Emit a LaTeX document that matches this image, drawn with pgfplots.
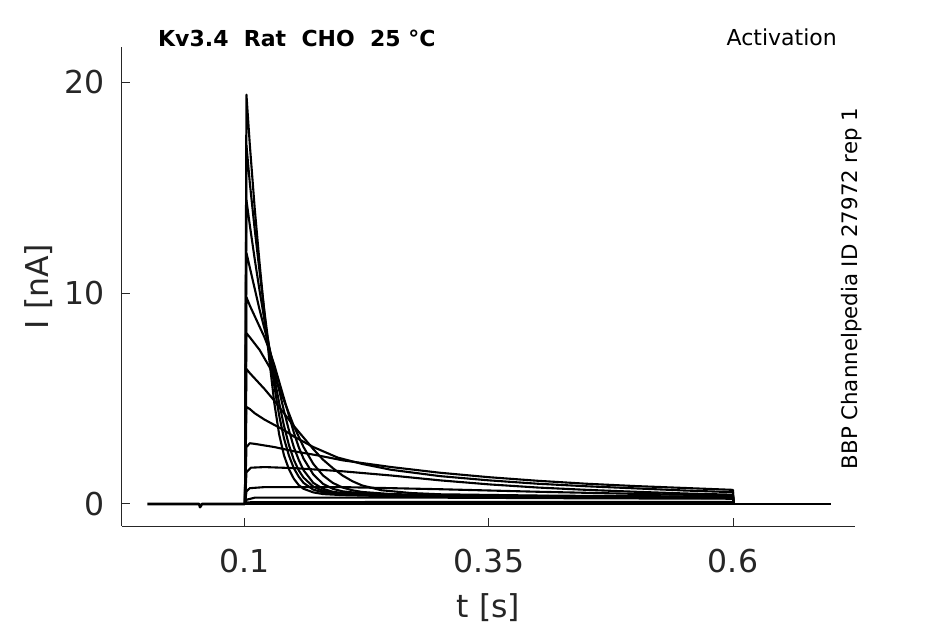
\documentclass[border=0pt]{standalone}
\usepackage{fontspec}
\setmainfont{DejaVu Sans}
\usepackage{pgfplots}
\pgfplotsset{compat=1.18}
\definecolor{axgray}{HTML}{262626}
\begin{document}
\begin{tikzpicture}[x=1pt,y=1pt]
\useasboundingbox (-122,-98) rectangle (823,526);
\begin{axis}[
  at={(0,0)}, anchor=south west,
  scale only axis, width=733pt, height=479pt,
  xmin=-0.026, xmax=0.725, ymin=-1.043, ymax=21.66,
  separate axis lines,
  axis x line*=bottom, axis y line*=left,
  x axis line style={-, draw=axgray, line width=1pt},
  y axis line style={-, draw=axgray, line width=1pt},
  tick align=inside, major tick length=8pt,
  tick style={draw=axgray, line width=1pt},
  xtick={0.1,0.35,0.6}, xticklabels={0.1,0.35,0.6},
  ytick={0,10,20}, yticklabels={0,10,20},
  ticklabel style={font=\fontsize{31.5}{36}\selectfont, text=axgray, inner sep=0pt},
  xticklabel style={anchor=north, yshift=-23pt},
  yticklabel style={anchor=east, xshift=-17pt},
  every axis x label/.style={at={(axis description cs:0.5,-0.19)}, anchor=base},
  every axis y label/.style={at={(axis description cs:-0.1005,0.5)}, rotate=90, anchor=base},
  label style={font=\fontsize{31.5}{36}\selectfont, text=axgray, inner sep=0pt},
  xlabel={t [s]}, ylabel={I [nA]},
  trace/.style={draw=black, solid, line width=2.1pt, line join=round, no markers},
]
% baseline (pre- and post-pulse)
\addplot[trace, line width=2.6pt] coordinates {(0,0) (0.05,0) (0.053,0) (0.054,-0.15) (0.056,0) (0.1,0)};
\addplot[trace, line width=2.6pt] coordinates {(0.6,0) (0.7,0)};
% traces
\addplot[trace] coordinates {(0.1,0) (0.1015,19.4) (0.105,17.0) (0.11,14.0) (0.115,11.4) (0.12,9.0) (0.125,6.8) (0.13,4.8) (0.135,3.3) (0.14,2.3) (0.145,1.65) (0.15,1.2) (0.155,0.9) (0.16,0.72) (0.17,0.55) (0.18,0.47) (0.2,0.42) (0.25,0.37) (0.3,0.35) (0.4,0.32) (0.5,0.3) (0.6,0.28) (0.6005,0)};
\addplot[trace] coordinates {(0.1,0) (0.1015,17.0) (0.105,15.2) (0.11,13.0) (0.115,11.0) (0.12,9.1) (0.125,7.3) (0.13,5.6) (0.135,4.2) (0.14,3.1) (0.145,2.3) (0.15,1.7) (0.155,1.3) (0.16,1.0) (0.17,0.68) (0.18,0.55) (0.2,0.45) (0.25,0.38) (0.3,0.36) (0.4,0.33) (0.5,0.3) (0.6,0.29) (0.6005,0)};
\addplot[trace] coordinates {(0.1,0) (0.1015,14.4) (0.105,13.2) (0.11,11.6) (0.115,10.1) (0.12,8.7) (0.125,7.4) (0.13,6.0) (0.135,4.8) (0.14,3.7) (0.145,2.8) (0.15,2.1) (0.155,1.6) (0.16,1.25) (0.17,0.82) (0.18,0.62) (0.2,0.48) (0.25,0.4) (0.3,0.37) (0.4,0.34) (0.5,0.32) (0.6,0.3) (0.6005,0)};
\addplot[trace] coordinates {(0.1,0) (0.1015,11.9) (0.105,11.2) (0.11,10.2) (0.115,9.2) (0.12,8.3) (0.125,7.4) (0.13,6.4) (0.135,5.4) (0.14,4.4) (0.145,3.5) (0.15,2.7) (0.155,2.1) (0.16,1.6) (0.17,1.0) (0.18,0.72) (0.19,0.58) (0.2,0.52) (0.25,0.42) (0.3,0.38) (0.4,0.35) (0.5,0.33) (0.6,0.31) (0.6005,0)};
\addplot[trace] coordinates {(0.1,0) (0.1015,9.8) (0.105,9.4) (0.11,8.9) (0.115,8.4) (0.12,7.9) (0.125,7.3) (0.13,6.6) (0.135,5.8) (0.14,5.0) (0.145,4.2) (0.15,3.4) (0.155,2.7) (0.16,2.15) (0.17,1.4) (0.18,0.95) (0.19,0.72) (0.2,0.6) (0.22,0.5) (0.25,0.44) (0.3,0.4) (0.4,0.36) (0.5,0.34) (0.6,0.32) (0.6005,0)};
\addplot[trace] coordinates {(0.1,0) (0.1015,8.1) (0.105,7.9) (0.11,7.6) (0.115,7.3) (0.12,6.9) (0.125,6.5) (0.13,6.0) (0.135,5.5) (0.14,4.9) (0.145,4.3) (0.15,3.7) (0.155,3.2) (0.16,2.7) (0.17,1.9) (0.18,1.35) (0.19,1.0) (0.2,0.78) (0.21,0.65) (0.22,0.57) (0.25,0.47) (0.3,0.42) (0.4,0.38) (0.5,0.35) (0.6,0.33) (0.6005,0)};
\addplot[trace] coordinates {(0.1,0) (0.1015,6.4) (0.105,6.2) (0.11,5.95) (0.12,5.45) (0.13,4.9) (0.14,4.3) (0.15,3.7) (0.16,3.15) (0.17,2.6) (0.18,2.1) (0.19,1.7) (0.2,1.35) (0.21,1.08) (0.22,0.88) (0.24,0.65) (0.27,0.52) (0.3,0.46) (0.4,0.4) (0.5,0.37) (0.6,0.35) (0.6005,0)};
\addplot[trace] coordinates {(0.1,0) (0.1015,4.6) (0.105,4.5) (0.11,4.3) (0.12,4.0) (0.13,3.75) (0.14,3.5) (0.15,3.2) (0.16,2.95) (0.17,2.7) (0.18,2.5) (0.195,2.2) (0.22,1.9) (0.25,1.62) (0.3,1.32) (0.35,1.12) (0.4,0.96) (0.45,0.84) (0.5,0.74) (0.55,0.64) (0.6,0.56) (0.6005,0)};
\addplot[trace] coordinates {(0.1,0) (0.1015,2.7) (0.105,2.88) (0.11,2.85) (0.13,2.7) (0.15,2.5) (0.175,2.3) (0.2,2.07) (0.25,1.75) (0.3,1.48) (0.35,1.27) (0.4,1.1) (0.45,0.96) (0.5,0.85) (0.55,0.76) (0.6,0.67) (0.6005,0)};
\addplot[trace] coordinates {(0.1,0) (0.1015,1.5) (0.106,1.72) (0.12,1.75) (0.15,1.7) (0.2,1.55) (0.25,1.35) (0.3,1.12) (0.35,0.93) (0.4,0.78) (0.45,0.67) (0.5,0.58) (0.55,0.5) (0.6,0.44) (0.6005,0)};
\addplot[trace] coordinates {(0.1,0) (0.1015,0.6) (0.105,0.75) (0.12,0.8) (0.2,0.8) (0.3,0.7) (0.4,0.58) (0.5,0.48) (0.6,0.4) (0.6005,0)};
\addplot[trace] coordinates {(0.1,0) (0.1015,0.2) (0.11,0.3) (0.3,0.3) (0.45,0.27) (0.6,0.25) (0.6005,0)};
\addplot[trace] coordinates {(0.1,0) (0.1015,0.08) (0.3,0.1) (0.6,0.1) (0.6005,0)};
\addplot[trace, line width=2.6pt] coordinates {(0.1,0) (0.6,0)};
\end{axis}
\node[anchor=base west, inner sep=0pt, font=\bfseries\fontsize{22}{26}\selectfont, text=black] at (36,479.3) {Kv3.4\ \ Rat\ \ CHO\ \ 25\ °C};
\node[anchor=base east, inner sep=0pt, font=\fontsize{22}{26}\selectfont, text=black] at (715,480) {Activation};
\node[rotate=90, anchor=base, inner sep=0pt, font=\fontsize{21.3}{25}\selectfont, text=black] at (735,237.5) {BBP Channelpedia ID 27972 rep 1};
\end{tikzpicture}
\end{document}
